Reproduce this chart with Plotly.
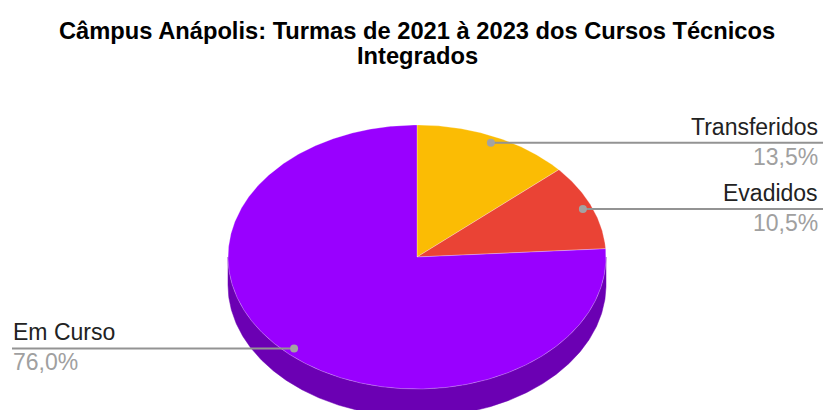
import numpy as np
import plotly.graph_objects as go

# Shares of students per situation (percent)
categories = ["Transferidos", "Evadidos", "Em Curso"]
values = [13.5, 10.5, 76.0]
colors = ["#fbbc04", "#ea4335", "#9900ff"]
side_colors = ["#b08403", "#a42f25", "#6b00b3"]

title_lines = ["Câmpus Anápolis: Turmas de 2021 à 2023 dos Cursos Técnicos", "Integrados"]

W, H = 823, 410
FONT = "Liberation Sans, Arial, sans-serif"

# Pie geometry in pixel units (y grows downward)
cx, cy = 417.0, 257.0
rx, ry = 189.0, 132.0
depth = 28.0
label_frac = 0.95


def edge(theta, dy=0.0, f=1.0):
    """Point on the ellipse rim; theta in degrees clockwise from 12 o'clock."""
    t = np.radians(theta)
    return cx + f * rx * np.sin(t), cy - f * ry * np.cos(t) + dy


total = sum(values)
bounds = np.concatenate([[0.0], np.cumsum(values)]) / total * 360.0

fig = go.Figure()

# Visible side wall (front half of the disc: 90..270 degrees)
for i in range(len(values)):
    a, b = max(bounds[i], 90.0), min(bounds[i + 1], 270.0)
    if b <= a:
        continue
    th = np.linspace(a, b, max(int((b - a) * 2), 4))
    xt, yt = edge(th)
    xb, yb = edge(th[::-1], dy=depth)
    fig.add_trace(go.Scatter(
        x=np.concatenate([xt, xb, xt[:1]]), y=np.concatenate([yt, yb, yt[:1]]),
        mode="lines", fill="toself", fillcolor=side_colors[i],
        line=dict(color=side_colors[i], width=0.5), hoverinfo="skip", showlegend=False))

# Top face slices
for i in range(len(values)):
    a, b = bounds[i], bounds[i + 1]
    th = np.linspace(a, b, max(int((b - a) * 2), 4))
    xe, ye = edge(th)
    fig.add_trace(go.Scatter(
        x=np.concatenate([[cx], xe, [cx]]), y=np.concatenate([[cy], ye, [cy]]),
        mode="lines", fill="toself", fillcolor=colors[i],
        line=dict(color="rgba(255,255,255,0.35)", width=0.8),
        name=categories[i], hoverinfo="name", showlegend=False))

# Leader lines, dots and labels
annotations = []
for i, (cat, v) in enumerate(zip(categories, values)):
    mid = (bounds[i] + bounds[i + 1]) / 2
    px, py = edge(mid, f=label_frac)
    right = mid < 180
    pct = f"{v / total * 100:.1f}".replace(".", ",") + "%"
    if right:
        lx0, lx1 = px, W
        tx, anchor = 818, "right"
    else:
        lx0, lx1 = 12, px
        tx, anchor = 13, "left"
    fig.add_trace(go.Scatter(
        x=[lx0, lx1], y=[py, py], mode="lines",
        line=dict(color="#939393", width=2), hoverinfo="skip", showlegend=False))
    fig.add_trace(go.Scatter(
        x=[px], y=[py], mode="markers",
        marker=dict(color="#a3a3a3", size=8), hoverinfo="skip", showlegend=False))
    annotations.append(dict(x=tx, y=py - 16, text=cat, xanchor=anchor, yanchor="middle",
                            font=dict(family=FONT, size=23, color="#222222")))
    annotations.append(dict(x=tx, y=py + 14, text=pct, xanchor=anchor, yanchor="middle",
                            font=dict(family=FONT, size=23, color="#a0a0a0")))

# Title (two centred lines)
for k, (line, ycap) in enumerate(zip(title_lines, [31, 56])):
    annotations.append(dict(x=417, y=ycap, text=f"<b>{line}</b>", xanchor="center",
                            yanchor="middle", font=dict(family=FONT, size=23.7, color="#000000")))

for a in annotations:
    a.update(xref="x", yref="y", showarrow=False, borderpad=0, borderwidth=0)

fig.update_layout(
    width=W, height=H, autosize=False,
    margin=dict(l=0, r=0, t=0, b=0),
    paper_bgcolor="white", plot_bgcolor="white",
    xaxis=dict(range=[0, W], visible=False, fixedrange=True),
    yaxis=dict(range=[H, 0], visible=False, fixedrange=True),
    annotations=annotations,
    showlegend=False,
)

fig.write_html("out.html")
